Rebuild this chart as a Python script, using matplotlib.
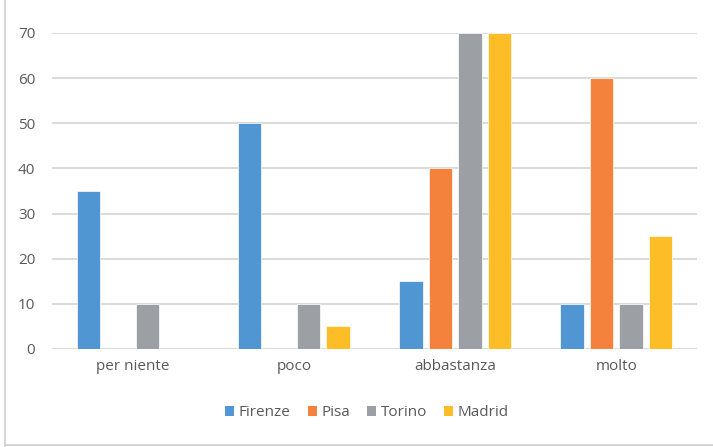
import matplotlib.pyplot as plt
import numpy as np
from matplotlib.lines import Line2D
from matplotlib.patches import Patch

categories = ["per niente", "poco", "abbastanza", "molto"]
series_names = ["Firenze", "Pisa", "Torino", "Madrid"]
firenze = [35, 50, 15, 10]
pisa = [0, 0, 40, 60]
torino = [10, 10, 70, 10]
madrid = [0, 5, 70, 25]
y_ticks = [0, 10, 20, 30, 40, 50, 60, 70]

colors = ["#5096D2", "#F4813C", "#9C9FA3", "#FDBD27"]
text_col = "#595959"

plt.rcParams["font.family"] = ["Open Sans", "DejaVu Sans"]

fig = plt.figure(figsize=(7.13, 4.47), dpi=100)
ax = fig.add_axes([52 / 713, 1 - 349 / 447, 645 / 713, 316 / 447])

x = np.arange(len(categories))
pitch = 0.183
width = 0.145
for i, (vals, col) in enumerate(zip([firenze, pisa, torino, madrid], colors)):
    ax.bar(x + (i - 1.5) * pitch, vals, width=width, color=col,
           edgecolor="white", linewidth=0.5, zorder=3)

ax.set_xlim(-0.5, len(categories) - 0.5)
ax.set_ylim(0, 70)
ax.set_yticks(y_ticks)
ax.set_xticks(x)
ax.set_xticklabels(categories)
ax.grid(axis="y", color="#D9D9D9", linewidth=1.4, zorder=0)
ax.tick_params(axis="both", length=0, labelsize=11, labelcolor=text_col)
ax.tick_params(axis="y", pad=12)
ax.tick_params(axis="x", pad=7)
for s in ax.spines.values():
    s.set_visible(False)

handles = [Patch(facecolor=c, edgecolor="none") for c in colors]
fig.legend(handles, series_names, loc="center", bbox_to_anchor=(367 / 713, 1 - 413 / 447),
           ncol=4, frameon=False, fontsize=11, labelcolor=text_col,
           handlelength=0.6, handleheight=0.6, handletextpad=0.3, columnspacing=1.1)

# outer chart border (left and bottom edges visible)
fig.add_artist(Line2D([5 / 713, 5 / 713], [0, 1], color="#D0D0D0", linewidth=1.2))
fig.add_artist(Line2D([5 / 713, 1], [2.5 / 447, 2.5 / 447], color="#D0D0D0", linewidth=1.2))

fig.savefig("out.png", dpi=100)
